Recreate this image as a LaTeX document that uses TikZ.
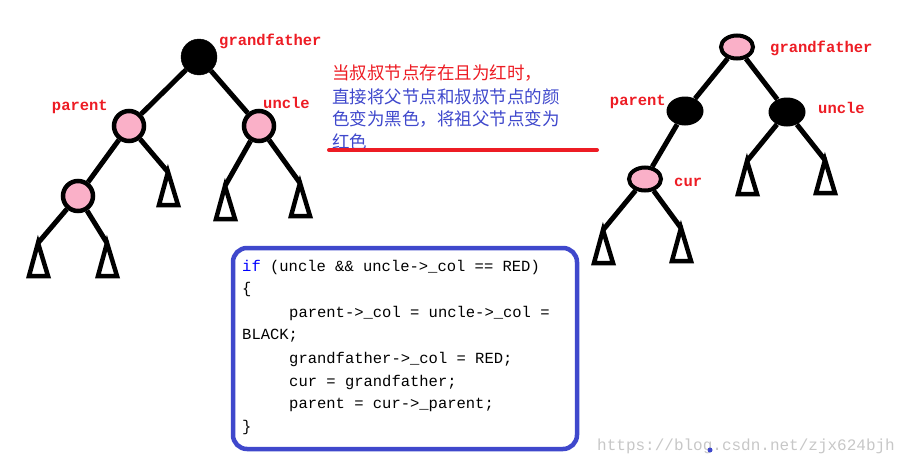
\documentclass[tikz,border=0pt]{standalone}
\usepackage{fontspec}
\setmonofont{Liberation Mono}
\newfontfamily\cjk{Noto Sans CJK SC}
\definecolor{nodepink}{RGB}{250,176,200}
\definecolor{txtred}{RGB}{237,28,36}
\definecolor{txtblue}{RGB}{63,72,204}
\tikzset{
  redn/.style   = {circle, draw=black, line width=4.5pt, fill=nodepink, minimum size=30pt, inner sep=0pt},
  blackn/.style = {circle, draw=black, fill=black, minimum size=36pt, inner sep=0pt},
  redr/.style   = {ellipse, draw=black, line width=4pt, fill=nodepink, minimum width=32pt, minimum height=23pt, inner sep=0pt},
  blackr/.style = {ellipse, fill=black, minimum width=37pt, minimum height=29pt, inner sep=0pt},
  edge/.style   = {line width=5pt},
  lbl/.style    = {text=txtred, font=\ttfamily\bfseries\fontsize{15.5}{15.5}\selectfont, inner sep=0pt},
  codeline/.style = {anchor=west, font=\ttfamily\fontsize{15.5}{15.5}\selectfont, inner sep=0pt},
}
\usetikzlibrary{shapes.geometric}
\newcommand{\subtree}[1]{\draw[line width=4.5pt, line join=miter] (#1) -- ++(-9,33) -- ++(19,0) -- cycle;}
\begin{document}
\begin{tikzpicture}[x=1pt, y=-1pt]
\useasboundingbox (0,0) rectangle (916,466);

% left tree
\node (gf)  [blackn] at (199,57)  {};
\node (par) [redn]   at (129,126) {};
\node (unc) [redn]   at (259,126) {};
\node (ll)  [redn]   at (78,196)  {};
\coordinate (pr)  at (168,172);
\coordinate (ul)  at (225,186);
\coordinate (ur)  at (300,183);
\coordinate (lla) at (38,243);
\coordinate (llb) at (107,243);

\draw [edge] (gf) -- (par);
\draw [edge] (gf) -- (unc);
\draw [edge] (par) -- (ll);
\draw [edge] (par) -- (pr);
\draw [edge] (unc) -- (ul);
\draw [edge] (unc) -- (ur);
\draw [edge] (ll) -- (lla);
\draw [edge] (ll) -- (llb);
\subtree{pr} \subtree{ul} \subtree{ur} \subtree{lla} \subtree{llb}

\node [lbl, anchor=west] at (219,41)  {grandfather};
\node [lbl, anchor=east] at (108,107) {parent};
\node [lbl, anchor=west] at (263,103) {uncle};

% right tree
\node (gf2)  [redr]   at (737,47)  {};
\node (par2) [blackr] at (685,111) {};
\node (unc2) [blackr] at (787,112) {};
\node (cur)  [redr]   at (645,179) {};
\coordinate (ua2) at (747,161);
\coordinate (ub2) at (825,160);
\coordinate (ca)  at (603,230);
\coordinate (cb)  at (681,228);

\draw [edge] (gf2) -- (par2);
\draw [edge] (gf2) -- (unc2);
\draw [edge] (par2) -- (cur);
\draw [edge] (unc2) -- (ua2);
\draw [edge] (unc2) -- (ub2);
\draw [edge] (cur) -- (ca);
\draw [edge] (cur) -- (cb);
\subtree{ua2} \subtree{ub2} \subtree{ca} \subtree{cb}

\node [lbl, anchor=west] at (770,48)  {grandfather};
\node [lbl, anchor=east] at (666,102) {parent};
\node [lbl, anchor=west] at (818,108) {uncle};
\node [lbl, anchor=west] at (674,182) {cur};

% note
\node (n1) [anchor=west, inner sep=0pt, text=txtred, font=\cjk\fontsize{17.5}{17.5}\selectfont] at (332,73) {当叔叔节点存在且为红时，};
\node (n2) [anchor=west, inner sep=0pt, text=txtblue, align=left,
  font=\cjk\fontsize{17.5}{22.5}\selectfont] at (332,119)
  {直接将父节点和叔叔节点的颜\\色变为黑色，将祖父节点变为\\红色};
\draw [txtred, line width=4pt, line cap=round] (329,150) -- (597,150);

% code
\draw [txtblue, line width=4.5pt, rounded corners=14pt] (233,248) rectangle (577,449);
\node [codeline] at (242,267) {\textcolor{blue}{if} (uncle \&\& uncle->\_col == RED)};
\node [codeline] at (242,289) {\{};
\node [codeline] at (289,313) {parent->\_col = uncle->\_col =};
\node [codeline] at (242,336) {BLACK;};
\node [codeline] at (289,359) {grandfather->\_col = RED;};
\node [codeline] at (289,382) {cur = grandfather;};
\node [codeline] at (289,405) {parent = cur->\_parent;};
\node [codeline] at (242,427) {\}};

% watermark
\node [anchor=west, inner sep=0pt, text=black!22, font=\ttfamily\fontsize{16}{16}\selectfont] at (597,446) {https://blog.csdn.net/zjx624bjh};
\fill [txtblue] (710,450) circle (2.5);
\end{tikzpicture}
\end{document}
